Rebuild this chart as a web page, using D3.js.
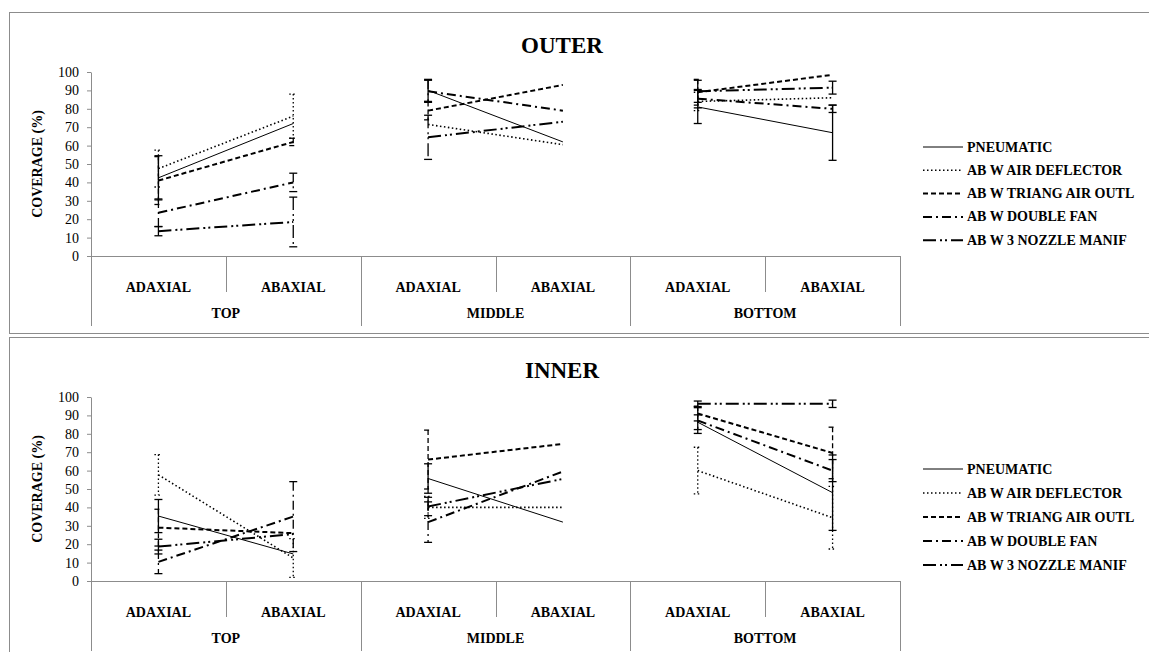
<!DOCTYPE html>
<html>
<head>
<meta charset="utf-8">
<script src="https://cdn.jsdelivr.net/npm/d3@7"></script>
<style>
  body { margin: 0; background: #fff; }
</style>
</head>
<body>
<script>
// categories
const groups = ["TOP", "MIDDLE", "BOTTOM"]
const sides = ["ADAXIAL", "ABAXIAL"]
const seriesNames = ["PNEUMATIC", "AB W AIR DEFLECTOR", "AB W TRIANG AIR OUTL", "AB W DOUBLE FAN", "AB W 3 NOZZLE MANIF"]
const yTicks = [0, 10, 20, 30, 40, 50, 60, 70, 80, 90, 100]

// OUTER values (coverage %), order: top ad, top ab, mid ad, mid ab, bot ad, bot ab
const outerPneumatic = [42.5, 72, 90, 62, 81, 67]
const outerDeflector = [47.5, 76, 71.5, 60.5, 84, 86]
const outerTriang = [41, 62, 79, 93, 89, 98.5]
const outerDoubleFan = [23.5, 40, 89.5, 79, 85.5, 80]
const outerNozzle = [13.5, 18.5, 64.5, 73, 89.5, 91.5]
// OUTER error (+/-)
const outerPneumaticErr = [12, 0, 6, 0, 9, 15]
const outerDeflectorErr = [10, 12, 0, 0, 5, 0]
const outerTriangErr = [13, 2, 5, 0, 7, 0]
const outerDoubleFanErr = [7.5, 5, 6, 0, 5, 2]
const outerNozzleErr = [2.5, 13.5, 12, 0, 6, 3.5]

// INNER values
const innerPneumatic = [35.3, 14.7, 55.7, 32, 86.3, 48]
const innerDeflector = [57.7, 12.5, 40, 40, 60, 34.4]
const innerTriang = [29, 26, 66, 74.5, 91, 69.6]
const innerDoubleFan = [10.4, 35, 32, 59.5, 87.2, 60]
const innerNozzle = [18.7, 25.5, 40.5, 55.5, 96.3, 96.3]
// INNER error
const innerPneumaticErr = [9, 0, 8, 0, 4, 20.5]
const innerDeflectorErr = [11, 10.5, 6, 0, 12.7, 17]
const innerTriangErr = [10, 0, 16, 0, 4, 14]
const innerDoubleFanErr = [6.4, 19, 11, 0, 7, 6]
const innerNozzleErr = [4, 0, 5, 0, 1.5, 2]

// line styles per series
const dashes = ["none", "1.5,2.5", "5,3", "9,4,2,4", "13,4,2,3,2,4"]
const widths = [1, 1.6, 2, 2, 2]
const FONT = '"Liberation Serif", "Times New Roman", Times, "DejaVu Serif", serif'

const W = 1149, H = 652
const svg = d3.select("body").append("svg")
    .attr("width", W)
    .attr("height", H)
    .attr("font-family", FONT)

const cats = []
groups.forEach(g => sides.forEach(s => cats.push(g + "|" + s)))

const x = d3.scaleBand()
    .domain(cats)
    .range([91, 900])
    .padding(0)

function drawPanel(top, title, values, errors, legendTop, legendStep) {
    const g = svg.append("g")
    const y0 = top + 244, y1 = top + 60
    const y = d3.scaleLinear().domain([0, 100]).range([y0, y1])

    // chart frame
    g.append("rect")
        .attr("x", 9.5).attr("y", top + 0.5)
        .attr("width", 1160).attr("height", 321)
        .attr("fill", "none").attr("stroke", "#8c8c8c")

    g.append("text")
        .attr("x", 562).attr("y", top + 33)
        .attr("text-anchor", "middle").attr("dominant-baseline", "central")
        .style("font-size", "23px").style("font-weight", "bold")
        .text(title)

    // y axis
    const yAxis = g.append("g")
        .attr("transform", `translate(91,0)`)
        .call(d3.axisLeft(y).tickValues(yTicks).tickSize(4).tickSizeOuter(0).tickPadding(8))
    yAxis.attr("font-family", null)
    yAxis.selectAll("path, line").attr("stroke", "#8c8c8c")
    yAxis.selectAll("text").style("font-size", "14px")

    g.append("text")
        .attr("transform", `translate(37,${(y0 + y1) / 2}) rotate(-90)`)
        .attr("text-anchor", "middle").attr("dominant-baseline", "central")
        .style("font-size", "14px").style("font-weight", "bold")
        .text("COVERAGE (%)")

    // category box
    const bw = x.bandwidth()
    g.append("line").attr("x1", 91).attr("x2", 900).attr("y1", y0 + 0.5).attr("y2", y0 + 0.5)
        .attr("stroke", "#8c8c8c")
    cats.forEach((c, i) => {
        const xl = Math.round(x(c)) + 0.5
        const len = i % 2 == 0 ? 70 : 36
        g.append("line").attr("x1", xl).attr("x2", xl).attr("y1", y0).attr("y2", y0 + len)
            .attr("stroke", "#8c8c8c")
        g.append("text")
            .attr("x", x(c) + bw / 2).attr("y", y0 + 31)
            .attr("text-anchor", "middle").attr("dominant-baseline", "central")
            .style("font-size", "14px").style("font-weight", "bold")
            .text(c.split("|")[1])
    })
    g.append("line").attr("x1", 900.5).attr("x2", 900.5).attr("y1", y0).attr("y2", y0 + 70)
        .attr("stroke", "#8c8c8c")
    groups.forEach(gr => {
        g.append("text")
            .attr("x", x(gr + "|ADAXIAL") + bw).attr("y", y0 + 57)
            .attr("text-anchor", "middle").attr("dominant-baseline", "central")
            .style("font-size", "14px").style("font-weight", "bold")
            .text(gr)
    })

    const cx = c => x(c) + bw / 2

    // error bars
    values.forEach((vals, si) => {
        vals.forEach((v, i) => {
            const e = errors[si][i]
            if (!e) return
            const px = cx(cats[i])
            const eb = g.append("g")
                .attr("stroke", "#000")
                .attr("stroke-width", 1.3)
                .attr("stroke-dasharray", si == 0 ? null : dashes[si])
            eb.append("line").attr("x1", px).attr("x2", px)
                .attr("y1", y(Math.min(100, v + e))).attr("y2", y(Math.max(0, v - e)))
            ;[v + e, v - e].forEach(t => {
                if (t > 100 || t < 0) return
                eb.append("line").attr("x1", px - 4).attr("x2", px + 4)
                    .attr("y1", y(t)).attr("y2", y(t))
                    .attr("stroke-dasharray", null)
            })
        })
    })

    // series lines: only adaxial -> abaxial inside each group
    const line = d3.line().x(d => cx(d.c)).y(d => y(d.v))
    values.forEach((vals, si) => {
        groups.forEach((gr, gi) => {
            const seg = [0, 1].map(k => ({ c: cats[gi * 2 + k], v: vals[gi * 2 + k] }))
            g.append("path")
                .datum(seg)
                .attr("d", line)
                .attr("fill", "none")
                .attr("stroke", "#000")
                .attr("stroke-width", widths[si])
                .attr("stroke-dasharray", dashes[si])
        })
    })

    // legend
    seriesNames.forEach((name, si) => {
        const ly = legendTop + si * legendStep
        g.append("line").attr("x1", 923).attr("x2", 963).attr("y1", ly).attr("y2", ly)
            .attr("stroke", "#000")
            .attr("stroke-width", widths[si])
            .attr("stroke-dasharray", dashes[si])
        g.append("text")
            .attr("x", 967).attr("y", ly)
            .attr("dominant-baseline", "central")
            .style("font-size", "14px").style("font-weight", "bold")
            .text(name)
    })
}

drawPanel(12, "OUTER",
    [outerPneumatic, outerDeflector, outerTriang, outerDoubleFan, outerNozzle],
    [outerPneumaticErr, outerDeflectorErr, outerTriangErr, outerDoubleFanErr, outerNozzleErr],
    147, 23.3)

drawPanel(337, "INNER",
    [innerPneumatic, innerDeflector, innerTriang, innerDoubleFan, innerNozzle],
    [innerPneumaticErr, innerDeflectorErr, innerTriangErr, innerDoubleFanErr, innerNozzleErr],
    469, 24)

svg.selectAll("text").style("font-family", FONT).style("fill", "#000")
</script>
</body>
</html>
